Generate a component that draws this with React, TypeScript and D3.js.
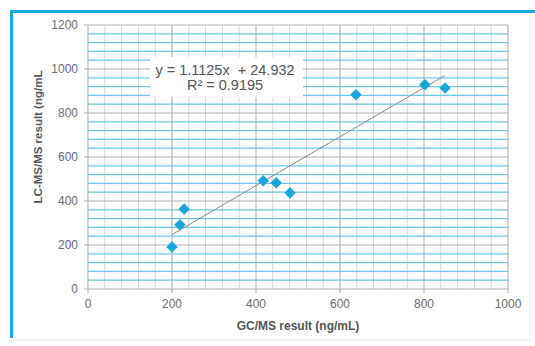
import React, { useEffect, useRef } from "react"
import * as d3 from "d3"

// GC/MS vs LC-MS/MS results (ng/mL)
const gcms = [200, 219, 229, 417, 448, 481, 638, 802, 850]
const lcms = [191, 292, 364, 492, 483, 437, 883, 928, 914]
const xTicks = [0, 200, 400, 600, 800, 1000]
const yTicks = [0, 200, 400, 600, 800, 1000, 1200]
const slope = 1.1125
const intercept = 24.932
const eqLines = ["y = 1.1125x  + 24.932", "R² = 0.9195"]

const W = 535
const H = 346

export default function App() {
  const ref = useRef<SVGSVGElement>(null)

  useEffect(() => {
    const svg = d3.select(ref.current)
    svg.selectAll("*").remove()

    const x = d3.scaleLinear().domain([0, 1000]).range([88, 508])
    const y = d3.scaleLinear().domain([0, 1200]).range([289, 25])

    // frame
    svg.append("rect").attr("width", W).attr("height", H).attr("fill", "#fff")
    svg.append("line").attr("x1", 10).attr("x2", W).attr("y1", 11.5).attr("y2", 11.5)
      .attr("stroke", "#19a9dc").attr("stroke-width", 3)
    svg.append("line").attr("x1", 11.5).attr("x2", 11.5).attr("y1", 10).attr("y2", 338)
      .attr("stroke", "#19a9dc").attr("stroke-width", 3)
    svg.append("line").attr("x1", 13).attr("x2", 531).attr("y1", 340).attr("y2", 340)
      .attr("stroke", "#e8ecee").attr("stroke-width", 1)
    svg.append("line").attr("x1", 531).attr("x2", 531).attr("y1", 13).attr("y2", 340)
      .attr("stroke", "#e8ecee").attr("stroke-width", 1)

    const g = svg.append("g")

    // minor vertical grid
    g.selectAll(".vminor").data(d3.range(40, 1000, 40).filter(v => v % 200 !== 0)).enter()
      .append("line")
      .attr("x1", d => x(d)).attr("x2", d => x(d))
      .attr("y1", y(1200)).attr("y2", y(0))
      .attr("stroke", "#d4d4d4").attr("stroke-width", 1)

    // minor horizontal grid (cyan)
    g.selectAll(".hminor").data(d3.range(40, 1200, 40).filter(v => v % 200 !== 0)).enter()
      .append("line")
      .attr("x1", x(0)).attr("x2", x(1000))
      .attr("y1", d => y(d)).attr("y2", d => y(d))
      .attr("stroke", "#6cc6e4").attr("stroke-width", 1.2)

    // major grid
    g.selectAll(".vmajor").data(xTicks).enter()
      .append("line")
      .attr("x1", d => x(d)).attr("x2", d => x(d))
      .attr("y1", y(1200)).attr("y2", y(0) + 4)
      .attr("stroke", "#a8a8a8").attr("stroke-width", 1)
    g.selectAll(".hmajor").data(yTicks).enter()
      .append("line")
      .attr("x1", x(0) - 4).attr("x2", x(1000))
      .attr("y1", d => y(d)).attr("y2", d => y(d))
      .attr("stroke", "#b0b0b0").attr("stroke-width", 1)

    // tick labels
    g.selectAll(".xl").data(xTicks).enter().append("text")
      .attr("x", d => x(d)).attr("y", y(0) + 19)
      .attr("text-anchor", "middle")
      .attr("font-family", "Liberation Sans, Arial, sans-serif").attr("font-size", 12)
      .attr("fill", "#6a6a6a").text(d => d)
    g.selectAll(".yl").data(yTicks).enter().append("text")
      .attr("x", x(0) - 10).attr("y", d => y(d) + 4)
      .attr("text-anchor", "end")
      .attr("font-family", "Liberation Sans, Arial, sans-serif").attr("font-size", 12)
      .attr("fill", "#6a6a6a").text(d => d)

    // axis titles
    g.append("text")
      .attr("x", x(500)).attr("y", 330)
      .attr("text-anchor", "middle")
      .attr("font-family", "Liberation Sans, Arial, sans-serif").attr("font-size", 12)
      .attr("font-weight", "bold").attr("fill", "#555")
      .text("GC/MS result (ng/mL)")
    g.append("text")
      .attr("transform", `translate(42,${137}) rotate(-90)`)
      .attr("text-anchor", "middle")
      .attr("font-family", "Liberation Sans, Arial, sans-serif").attr("font-size", 11.5)
      .attr("font-weight", "bold").attr("fill", "#555")
      .text("LC-MS/MS result (ng/mL")

    // trendline
    const xMin = d3.min(gcms) as number
    const xMax = d3.max(gcms) as number
    g.append("line")
      .attr("x1", x(xMin)).attr("y1", y(slope * xMin + intercept))
      .attr("x2", x(xMax)).attr("y2", y(slope * xMax + intercept))
      .attr("stroke", "#8a8a8a").attr("stroke-width", 1)

    // points
    const diamond = d3.symbol().type(d3.symbolDiamond2).size(85)
    g.selectAll(".pt").data(gcms).enter().append("path")
      .attr("d", diamond)
      .attr("transform", (d, i) => `translate(${x(d)},${y(lcms[i])})`)
      .attr("fill", "#1aa6d8")

    // equation box
    g.append("rect")
      .attr("x", 150).attr("y", 57).attr("width", 153).attr("height", 40)
      .attr("fill", "#fff")
    g.selectAll(".eq").data(eqLines).enter().append("text")
      .attr("x", 225).attr("y", (d, i) => 75 + i * 15)
      .attr("text-anchor", "middle")
      .attr("font-family", "Liberation Sans, Arial, sans-serif").attr("font-size", 14.5)
      .attr("fill", "#555")
      .attr("xml:space", "preserve")
      .style("white-space", "pre")
      .text(d => d)
  }, [])

  return <svg ref={ref} width={W} height={H} style={{ display: "block", position: "absolute", left: 0, top: 0 }} />
}
